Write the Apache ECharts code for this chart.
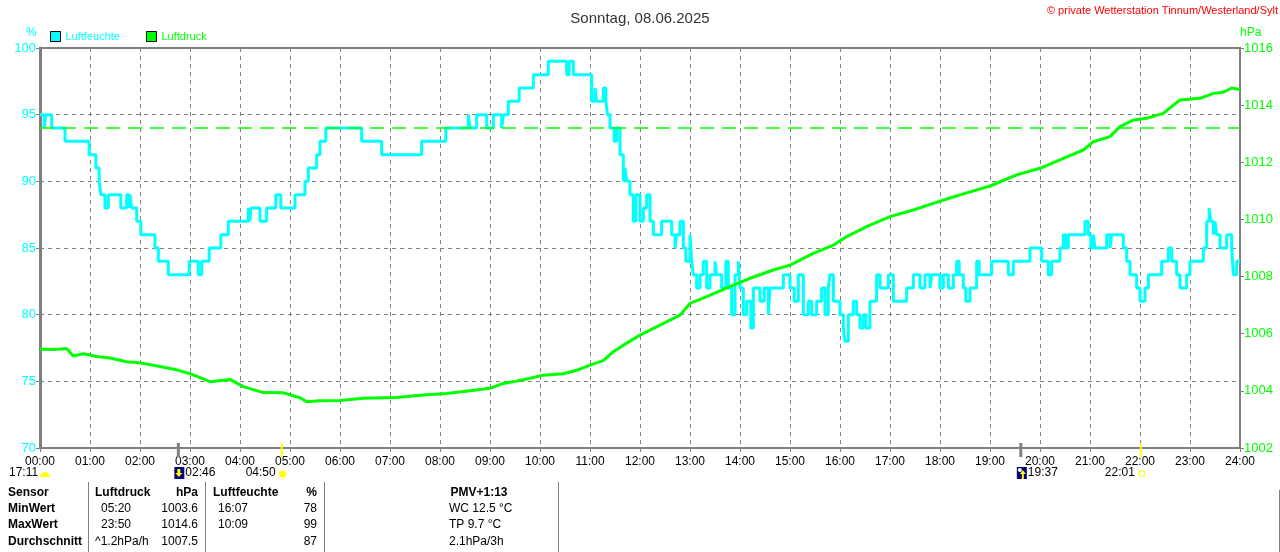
<!DOCTYPE html>
<html><head><meta charset="utf-8">
<script src="https://cdn.jsdelivr.net/npm/echarts@6/dist/echarts.min.js"></script>
<style>html,body{margin:0;padding:0;background:#fff}#c{width:1280px;height:552px}</style>
</head><body><div id="c"></div>
<script>
const hourLabels = ['00:00','01:00','02:00','03:00','04:00','05:00','06:00','07:00','08:00','09:00','10:00','11:00','12:00','13:00','14:00','15:00','16:00','17:00','18:00','19:00','20:00','21:00','22:00','23:00','24:00'];

// Luftfeuchte (%) : minute of day where the value starts
const humMinutes = [0,5,7,14,30,59,67,71,73,78,
 82,97,104,107,108,110,116,121,138,142,
 154,179,190,194,203,217,226,250,252,253,
 264,272,283,289,306,318,322,332,336,343,
 386,410,458,487,514,516,524,536,544,554,
 556,562,575,592,610,632,635,640,662,666,
 668,676,679,681,684,689,692,696,700,702,
 704,708,712,715,720,724,728,732,736,746,
 758,762,764,768,772,775,780,782,784,788,
 792,796,800,804,810,812,818,823,826,830,
 834,838,840,844,848,853,856,864,869,874,
 876,892,900,905,910,916,922,926,932,938,
 942,946,948,952,960,964,966,970,976,980,
 984,988,991,996,1004,1008,1018,1024,1040,1048,
 1056,1062,1068,1070,1080,1084,1090,1096,1100,1103,
 1108,1111,1116,1124,1127,1142,1162,1168,1188,1202,
 1210,1214,1224,1228,1231,1234,1254,1258,1261,1264,
 1266,1280,1284,1286,1300,1304,1308,1316,1320,1326,
 1330,1346,1354,1358,1364,1368,1376,1380,1396,1400,
 1403,1405,1408,1410,1412,1416,1424,1430,1432,1436,
 1440];
const humValues = [95,94,95,94,93,92,91,90,89,88,
 89,88,89,88,89,88,87,86,85,84,
 83,84,83,84,85,86,87,88,87,88,
 87,88,89,88,89,90,91,92,93,94,
 93,92,93,94,95,94,95,94,95,94,
 95,96,97,98,99,98,99,98,96,97,
 96,97,96,95,94,93,94,92,90,91,
 90,89,87,89,87,88,89,87,86,87,
 86,85,86,87,85,84,86,84,83,82,
 83,84,82,83,84,83,82,84,82,80,
 83,84,82,80,81,79,82,81,82,80,
 82,83,82,81,83,80,81,80,81,82,
 80,82,83,81,80,79,78,80,81,80,
 79,80,79,81,83,82,83,81,82,83,
 82,83,82,83,82,83,82,83,84,83,
 82,81,82,84,83,84,83,84,85,84,
 83,84,85,86,85,86,87,86,85,86,
 85,86,85,86,85,84,83,82,81,82,
 83,84,85,84,83,82,83,84,85,87,
 88,87,86,87,86,85,86,85,83,84,
 84];

// Luftdruck (hPa)
const presMinutes = [0,18,32,40,52,68,84,104,120,144,
 162,180,204,228,244,268,292,312,320,336,
 360,388,428,456,488,516,540,556,572,588,
 604,628,644,660,676,688,700,720,744,768,
 780,800,828,852,880,900,928,952,968,992,
 1020,1048,1072,1092,1104,1140,1172,1200,1228,1252,
 1264,1284,1296,1312,1328,1348,1360,1368,1392,1408,
 1420,1430,1440];
const presValues = [1005.46,1005.45,1005.48,1005.22,1005.3,1005.2,1005.15,1005.02,1004.98,1004.85,
 1004.75,1004.6,1004.32,1004.4,1004.15,1003.94,1003.93,1003.76,1003.62,1003.65,
 1003.66,1003.74,1003.77,1003.85,1003.91,1004.0,1004.09,1004.26,1004.34,1004.44,
 1004.55,1004.6,1004.72,1004.9,1005.06,1005.37,1005.6,1005.95,1006.3,1006.65,
 1007.06,1007.3,1007.65,1007.94,1008.23,1008.4,1008.81,1009.1,1009.4,1009.75,
 1010.1,1010.33,1010.56,1010.75,1010.86,1011.17,1011.56,1011.79,1012.14,1012.43,
 1012.72,1012.9,1013.25,1013.48,1013.54,1013.71,1014.0,1014.18,1014.24,1014.41,
 1014.45,1014.6,1014.55];

const pressureRefLine = 1013.2;

// astronomical markers (minute of day): moonset, sunrise, moonrise, sunset
const astroMinutes = [166, 290, 1177, 1321];
const astroLabels = ['02:46', '04:50', '19:37', '22:01'];

// statistics table
const tableHeader = ['Sensor', 'Luftdruck', 'hPa', 'Luftfeuchte', '%', 'PMV+1:13'];
const rowNames = ['MinWert', 'MaxWert', 'Durchschnitt'];
const presTimes = ['05:20', '23:50', '^1.2hPa/h'];
const presStats = ['1003.6', '1014.6', '1007.5'];
const humTimes = ['16:07', '10:09', ''];
const humStats = ['78', '99', '87'];
const extraInfo = ['WC 12.5 °C', 'TP 9.7 °C', '2.1hPa/3h'];

const FONT = '"Liberation Sans", Arial, sans-serif';
const GREY = '#808080';
const CYAN = '#00ffff';
const GREEN = '#00ff00';

const humData = humMinutes.map((m, i) => [m, humValues[i]]);
const presData = presMinutes.map((m, i) => [m, presValues[i]]);

const chart = echarts.init(document.getElementById('c'), null, {renderer: 'canvas'});

const option = {
  animation: false,
  backgroundColor: '#fff',
  title: {
    text: 'Sonntag, 08.06.2025', left: 'center', top: 6,
    textStyle: {fontFamily: FONT, fontSize: 15, fontWeight: 'normal', color: '#333'}
  },
  legend: {
    left: 50, top: 31, padding: 0, icon: 'rect', itemWidth: 10, itemHeight: 10, itemGap: 26,
    itemStyle: {borderColor: '#000', borderWidth: 1},
    textStyle: {fontFamily: FONT, fontSize: 11},
    data: [
      {name: 'Luftfeuchte', textStyle: {color: CYAN}},
      {name: 'Luftdruck', textStyle: {color: GREEN}}
    ]
  },
  grid: {left: 40, right: 40, top: 48, bottom: 104, show: true, borderColor: GREY, borderWidth: 2},
  xAxis: {
    type: 'value', min: 0, max: 1440, interval: 60,
    axisLine: {show: true, lineStyle: {color: GREY, width: 2}},
    axisTick: {show: true, length: 4, lineStyle: {color: GREY}},
    axisLabel: {
      color: '#000', fontFamily: FONT, fontSize: 12, margin: 8,
      formatter: v => hourLabels[Math.round(v / 60)]
    },
    splitLine: {show: true, lineStyle: {color: GREY, type: [4, 4], width: 1}}
  },
  yAxis: [
    {
      type: 'value', min: 70, max: 100, interval: 5, position: 'left',
      axisLine: {show: true, lineStyle: {color: GREY, width: 3}},
      axisTick: {show: true, length: 4, lineStyle: {color: GREY}},
      axisLabel: {color: CYAN, fontFamily: FONT, fontSize: 13, margin: 4, formatter: v => String(v)},
      splitLine: {show: true, lineStyle: {color: GREY, type: [4, 4], width: 1}}
    },
    {
      type: 'value', min: 1002, max: 1016, interval: 2, position: 'right',
      axisLine: {show: true, lineStyle: {color: GREY, width: 2}},
      axisTick: {show: true, length: 4, lineStyle: {color: GREY}},
      axisLabel: {color: GREEN, fontFamily: FONT, fontSize: 13, margin: 4, formatter: v => String(v)},
      splitLine: {show: false}
    }
  ],
  series: [
    {
      name: 'Luftfeuchte', type: 'line', yAxisIndex: 0, step: 'end',
      data: humData, showSymbol: false, symbol: 'none',
      itemStyle: {color: CYAN},
      lineStyle: {color: CYAN, width: 3}, z: 3
    },
    {
      name: 'Luftdruck', type: 'line', yAxisIndex: 1,
      data: presData, showSymbol: false, symbol: 'none',
      itemStyle: {color: GREEN},
      lineStyle: {color: GREEN, width: 3}, z: 4,
      markLine: {
        silent: true, symbol: ['none', 'none'], label: {show: false},
        lineStyle: {color: GREEN, type: [14, 8], width: 1.5},
        data: [{yAxis: pressureRefLine}]
      }
    }
  ]
};
chart.setOption(option);

// ---- extra graphics (positions from the chart's own scales) ----
const g = [];
const txt = (x, y, s, opt) => g.push(Object.assign({
  type: 'text', x, y, silent: true,
  style: Object.assign({text: s, fill: '#000', font: '12px ' + FONT, textVerticalAlign: 'middle'}, opt || {})
}));

// axis units
txt(26, 33, '%', {fill: CYAN, font: '12px ' + FONT});
txt(1240, 33, 'hPa', {fill: GREEN, font: '12px ' + FONT});
// copyright
txt(1278, 11, '© private Wetterstation Tinnum/Westerland/Sylt', {fill: '#ff0000', font: '11px ' + FONT, textAlign: 'right'});

// astronomical ticks
const yAxisPix = chart.convertToPixel({yAxisIndex: 0}, 70);
const astroColors = [GREY, '#ffff00', GREY, '#ffff00'];
astroMinutes.forEach((m, i) => {
  const px = chart.convertToPixel({xAxisIndex: 0}, m);
  g.push({type: 'line', silent: true, z: 10, shape: {x1: px, y1: yAxisPix - 5, x2: px, y2: yAxisPix + 9},
    style: {stroke: astroColors[i], lineWidth: i % 2 === 0 ? 3 : 2}});
});
const rowY = 473;
// 17:11 half sun
txt(9, rowY, '17:11');
g.push({type: 'sector', silent: true, shape: {cx: 45, cy: rowY + 4, r: 5, r0: 0, startAngle: Math.PI, endAngle: 2 * Math.PI}, style: {fill: '#ffff00'}});
// moonset 02:46
(function () {
  const px = chart.convertToPixel({xAxisIndex: 0}, astroMinutes[0]);
  g.push({type: 'rect', silent: true, shape: {x: px - 4, y: rowY - 6, width: 10, height: 12}, style: {fill: '#000080'}});
  g.push({type: 'polygon', silent: true, shape: {points: [[px - 1, rowY - 4], [px + 2, rowY - 4], [px + 2, rowY], [px + 4, rowY], [px + 0.5, rowY + 4], [px - 3, rowY], [px - 1, rowY]]}, style: {fill: '#ffff00'}});
  txt(px + 7, rowY, astroLabels[0]);
})();
// sunrise 04:50
(function () {
  const px = chart.convertToPixel({xAxisIndex: 0}, astroMinutes[1]);
  txt(px - 6, rowY, astroLabels[1], {textAlign: 'right'});
  g.push({type: 'circle', silent: true, shape: {cx: px + 1, cy: rowY + 1, r: 3.5}, style: {fill: '#ffff00'}});
  for (let k = 0; k < 8; k++) {
    const a = k * Math.PI / 4;
    g.push({type: 'line', silent: true, shape: {x1: px + 1 + Math.cos(a) * 4.5, y1: rowY + 1 + Math.sin(a) * 4.5, x2: px + 1 + Math.cos(a) * 6, y2: rowY + 1 + Math.sin(a) * 6}, style: {stroke: '#ffff80', lineWidth: 1}});
  }
})();
// moonrise 19:37
(function () {
  const px = chart.convertToPixel({xAxisIndex: 0}, astroMinutes[2]);
  g.push({type: 'rect', silent: true, shape: {x: px - 4, y: rowY - 6, width: 10, height: 12}, style: {fill: '#000080'}});
  g.push({type: 'circle', silent: true, shape: {cx: px - 1, cy: rowY - 3, r: 2}, style: {fill: '#ffffff'}});
  g.push({type: 'polygon', silent: true, shape: {points: [[px + 1, rowY + 6], [px + 3, rowY + 6], [px + 3, rowY + 1], [px + 5, rowY + 1], [px + 2, rowY - 3], [px - 1, rowY + 1], [px + 1, rowY + 1]]}, style: {fill: '#ffff00'}});
  txt(px + 7, rowY, astroLabels[2]);
})();
// sunset 22:01
(function () {
  const px = chart.convertToPixel({xAxisIndex: 0}, astroMinutes[3]);
  txt(px - 6, rowY, astroLabels[3], {textAlign: 'right'});
  g.push({type: 'rect', silent: true, shape: {x: px - 1.5, y: rowY - 2, width: 5, height: 5}, style: {fill: 'none', stroke: '#ffff00', lineWidth: 1}});
})();

// table separators
[88, 205, 324, 558].forEach(x => g.push({type: 'line', silent: true, shape: {x1: x + 0.5, y1: 482, x2: x + 0.5, y2: 552}, style: {stroke: GREY, lineWidth: 1}}));
g.push({type: 'line', silent: true, shape: {x1: 1279.5, y1: 490, x2: 1279.5, y2: 552}, style: {stroke: GREY, lineWidth: 1}});

const B = 'bold 12px ' + FONT;
const N = '12px ' + FONT;
const rowsY = [493, 509, 525, 542];
txt(8, rowsY[0], tableHeader[0], {font: B});
txt(95, rowsY[0], tableHeader[1], {font: B});
txt(198, rowsY[0], tableHeader[2], {font: B, textAlign: 'right'});
txt(213, rowsY[0], tableHeader[3], {font: B});
txt(317, rowsY[0], tableHeader[4], {font: B, textAlign: 'right'});
txt(479, rowsY[0], tableHeader[5], {font: B, textAlign: 'center'});
rowNames.forEach((r, i) => {
  const y = rowsY[i + 1];
  txt(8, y, r, {font: B});
  txt(i === 2 ? 95 : 101, y, presTimes[i], {font: N});
  txt(198, y, presStats[i], {font: N, textAlign: 'right'});
  txt(218, y, humTimes[i], {font: N});
  txt(317, y, humStats[i], {font: N, textAlign: 'right'});
  txt(449, y, extraInfo[i], {font: N});
});

chart.setOption({graphic: {elements: g}});
</script>
</body></html>
